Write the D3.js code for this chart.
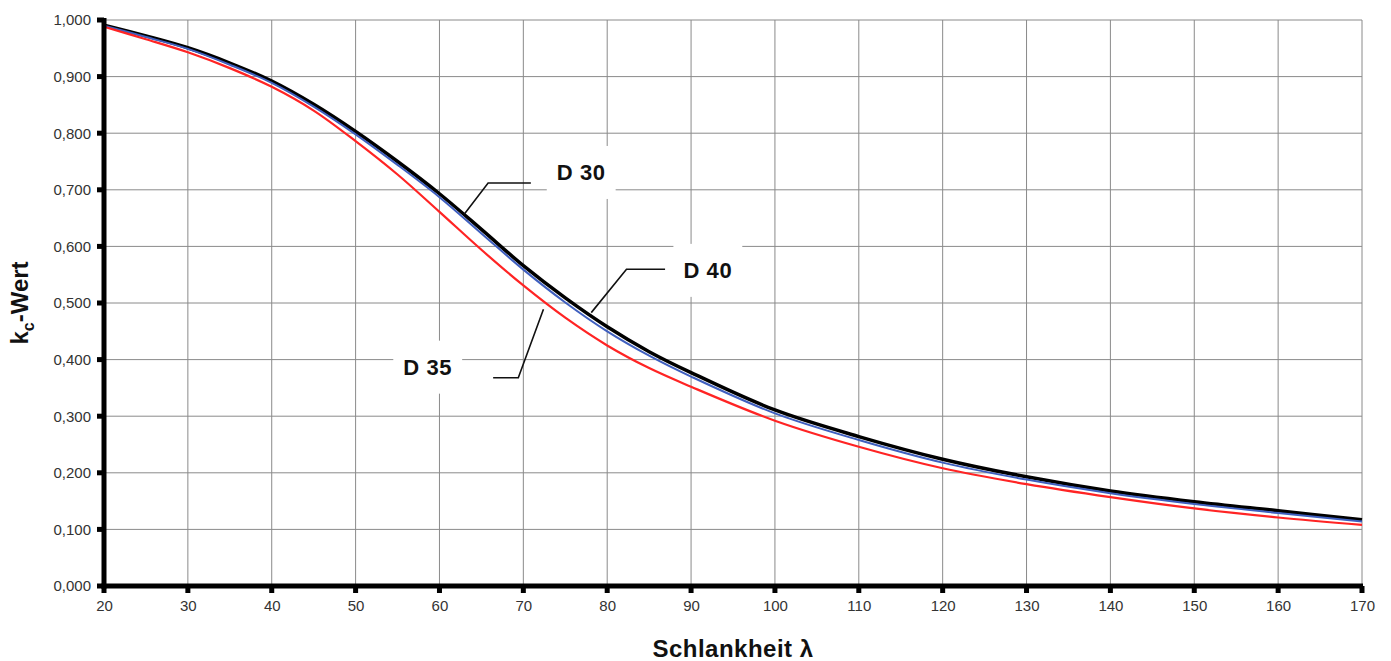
<!DOCTYPE html>
<html>
<head>
<meta charset="utf-8">
<script src="https://cdn.jsdelivr.net/npm/d3@7"></script>
<style>
  body { margin: 0; background: #fff; }
  text { font-family: Arial, "Liberation Sans", sans-serif; }
</style>
</head>
<body>
<svg class="chart"></svg>
<script>
// Chart size
const width = 1391;
const height = 661;

// Data
const lambda = [20, 25, 30, 35, 40, 45, 50, 55, 60, 65, 70, 75, 80, 85, 90, 100, 110, 120, 130, 140, 150, 160, 170];
const kcD30 = [0.991, 0.972, 0.951, 0.924, 0.892, 0.851, 0.803, 0.750, 0.693, 0.630, 0.566, 0.509, 0.458, 0.414, 0.377, 0.311, 0.264, 0.224, 0.193, 0.168, 0.149, 0.133, 0.117];
const kcD40 = [0.990, 0.970, 0.949, 0.921, 0.889, 0.847, 0.798, 0.744, 0.687, 0.623, 0.559, 0.501, 0.450, 0.407, 0.370, 0.305, 0.258, 0.218, 0.188, 0.164, 0.145, 0.129, 0.114];
const kcD35 = [0.988, 0.966, 0.943, 0.915, 0.882, 0.840, 0.786, 0.727, 0.661, 0.594, 0.531, 0.474, 0.425, 0.385, 0.352, 0.292, 0.246, 0.208, 0.180, 0.157, 0.137, 0.121, 0.108];
const xTicks = d3.range(20, 171, 10);
const yTicks = d3.range(0, 1.0001, 0.1);

// Label positions (data units) and leader lines
const labels = [
  { name: "D 30", at: [76.9, 0.731], leader: [[70.9, 0.712], [65.8, 0.712], [62.95, 0.657]] },
  { name: "D 40", at: [92.0, 0.558], leader: [[86.9, 0.5595], [82.3, 0.5595], [78.1, 0.483]] },
  { name: "D 35", at: [58.6, 0.387], leader: [[66.4, 0.368], [69.4, 0.368], [72.4, 0.489]] }
];

const svg = d3.select(".chart")
    .attr("width", width)
    .attr("height", height);

const x = d3.scaleLinear().domain([20, 170]).range([104, 1362]);
const y = d3.scaleLinear().domain([0, 1]).range([586, 20]);

// Grid
const grid = svg.append("g").attr("stroke", "#8a8a8a").attr("stroke-width", 1);
grid.selectAll(".gx")
    .data(xTicks)
    .enter().append("line")
    .attr("x1", d => x(d)).attr("x2", d => x(d))
    .attr("y1", y(0)).attr("y2", y(1));
grid.selectAll(".gy")
    .data(yTicks)
    .enter().append("line")
    .attr("x1", x(20)).attr("x2", x(170))
    .attr("y1", d => y(d)).attr("y2", d => y(d));

// Label boxes (white, hide the grid behind text)
const lab = svg.append("g");
labels.forEach(l => {
    const t = lab.append("text")
        .attr("x", x(l.at[0]))
        .attr("y", y(l.at[1]))
        .attr("dy", "0.35em")
        .attr("text-anchor", "middle")
        .attr("font-size", 22)
        .attr("font-weight", "bold")
        .attr("letter-spacing", 0.6)
        .attr("fill", "#111")
        .text(l.name);
    const bb = t.node().getBBox();
    lab.insert("rect", "text")
        .attr("x", bb.x - 10)
        .attr("y", bb.y - 14)
        .attr("width", bb.width + 20)
        .attr("height", bb.height + 28)
        .attr("fill", "#fff");
});

// Curves
const line = d3.line()
    .x(d => x(d[0]))
    .y(d => y(d[1]))
    .curve(d3.curveCatmullRom.alpha(0.5));

const series = [
    { values: kcD30, color: "#000", w: 3.5 },
    { values: kcD40, color: "#3f5fbf", w: 2 },
    { values: kcD35, color: "#ff2424", w: 2.2 }
];
svg.selectAll(".curve")
    .data(series)
    .enter().append("path")
    .attr("class", "curve")
    .attr("fill", "none")
    .attr("stroke", d => d.color)
    .attr("stroke-width", d => d.w)
    .attr("d", d => line(lambda.map((l, i) => [l, d.values[i]])));

// Leader lines
const leader = d3.line().x(d => x(d[0])).y(d => y(d[1]));
svg.selectAll(".leader")
    .data(labels)
    .enter().append("path")
    .attr("fill", "none")
    .attr("stroke", "#111")
    .attr("stroke-width", 1.6)
    .attr("d", d => leader(d.leader));
lab.raise();

// Axes
const xAxis = svg.append("g")
    .attr("transform", `translate(0,${y(0)})`)
    .call(d3.axisBottom(x).tickValues(xTicks).tickSize(0).tickPadding(14).tickFormat(d3.format("d")));
const yAxis = svg.append("g")
    .attr("transform", `translate(${x(20)},0)`)
    .call(d3.axisLeft(y).tickValues(yTicks).tickSize(0).tickPadding(13)
        .tickFormat(d => d3.format(".3f")(d).replace(".", ",")));
[xAxis, yAxis].forEach(a => {
    a.select(".domain").remove();
    a.selectAll("text").attr("font-size", 15).attr("fill", "#333").attr("font-family", "Arial, 'Liberation Sans', sans-serif");
});

// Tick marks (small squares)
svg.append("g").selectAll("rect")
    .data(xTicks)
    .enter().append("rect")
    .attr("x", d => x(d) - 2.5).attr("y", y(0)).attr("width", 5).attr("height", 7)
    .attr("fill", "#000");
svg.append("g").selectAll("rect")
    .data(yTicks)
    .enter().append("rect")
    .attr("x", x(20) - 7).attr("y", d => y(d) - 2.5).attr("width", 7).attr("height", 5)
    .attr("fill", "#000");

// Thick axis lines
svg.append("line")
    .attr("x1", x(20)).attr("x2", x(20))
    .attr("y1", y(1) - 2).attr("y2", y(0) + 2.5)
    .attr("stroke", "#000").attr("stroke-width", 5);
svg.append("line")
    .attr("x1", x(20) - 2.5).attr("x2", x(170) + 1)
    .attr("y1", y(0)).attr("y2", y(0))
    .attr("stroke", "#000").attr("stroke-width", 5);

// Axis titles
svg.append("text")
    .attr("x", (x(20) + x(170)) / 2)
    .attr("y", 657)
    .attr("text-anchor", "middle")
    .attr("font-size", 24)
    .attr("font-weight", "bold")
    .attr("letter-spacing", 0.5)
    .attr("fill", "#111")
    .text("Schlankheit λ");

const yt = svg.append("text")
    .attr("transform", `translate(28,${(y(0) + y(1)) / 2}) rotate(-90)`)
    .attr("text-anchor", "middle")
    .attr("font-size", 24)
    .attr("font-weight", "bold")
    .attr("fill", "#111");
yt.append("tspan").text("k");
yt.append("tspan").attr("font-size", 16).attr("dy", 6).text("c");
yt.append("tspan").attr("dy", -6).text("-Wert");
</script>
</body>
</html>
